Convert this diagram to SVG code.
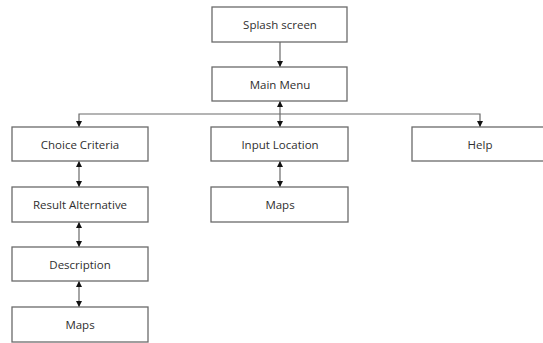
<svg xmlns="http://www.w3.org/2000/svg" width="543" height="343" viewBox="0 0 543 343">
<defs>
<marker id="ah" viewBox="0 0 10 10" refX="10" refY="5" markerWidth="6" markerHeight="7" markerUnits="userSpaceOnUse" orient="auto-start-reverse">
<path d="M0,0 L10,5 L0,10 Z" fill="#111"/>
</marker>
<style>
.box{fill:#fff;stroke:#6a6a6a;stroke-width:1.3}
.lbl{font-family:"Open Sans","Liberation Sans",sans-serif;font-size:11.5px;font-weight:500;fill:#2f2f2f;text-anchor:middle;dominant-baseline:central}
.c{fill:none;stroke:#6a6a6a;stroke-width:1.2}
</style>
</defs>
<rect width="543" height="343" fill="#fff"/>
<g id="connectors">
<line class="c" x1="280" y1="42" x2="280" y2="67" marker-end="url(#ah)"/>
<line class="c" x1="280" y1="101" x2="280" y2="127" marker-start="url(#ah)" marker-end="url(#ah)"/>
<polyline class="c" points="79,127 79,114 480,114 480,127" marker-start="url(#ah)" marker-end="url(#ah)"/>
<line class="c" x1="79" y1="161" x2="79" y2="187" marker-start="url(#ah)" marker-end="url(#ah)"/>
<line class="c" x1="79" y1="222" x2="79" y2="247" marker-start="url(#ah)" marker-end="url(#ah)"/>
<line class="c" x1="79" y1="281" x2="79" y2="307" marker-start="url(#ah)" marker-end="url(#ah)"/>
<line class="c" x1="280" y1="161" x2="280" y2="187" marker-start="url(#ah)" marker-end="url(#ah)"/>
</g>
<g id="splash"><rect class="box" x="212" y="7" width="135" height="35"/><text class="lbl" x="280" y="24.5">Splash screen</text></g>
<g id="mainmenu"><rect class="box" x="212" y="67" width="135" height="34"/><text class="lbl" x="280" y="84">Main Menu</text></g>
<g id="choice"><rect class="box" x="12" y="127" width="136" height="34"/><text class="lbl" x="80" y="144">Choice Criteria</text></g>
<g id="result"><rect class="box" x="12" y="187" width="136" height="35"/><text class="lbl" x="80" y="204.5">Result Alternative</text></g>
<g id="description"><rect class="box" x="12" y="247" width="136" height="34"/><text class="lbl" x="80" y="264">Description</text></g>
<g id="maps1"><rect class="box" x="12" y="307" width="136" height="35"/><text class="lbl" x="80" y="324.5">Maps</text></g>
<g id="input"><rect class="box" x="211" y="127" width="137" height="34"/><text class="lbl" x="280" y="144">Input Location</text></g>
<g id="maps2"><rect class="box" x="211" y="187" width="137" height="35"/><text class="lbl" x="280" y="204.5">Maps</text></g>
<g id="help"><rect class="box" x="412" y="127" width="136" height="34"/><text class="lbl" x="480" y="144">Help</text></g>
</svg>
